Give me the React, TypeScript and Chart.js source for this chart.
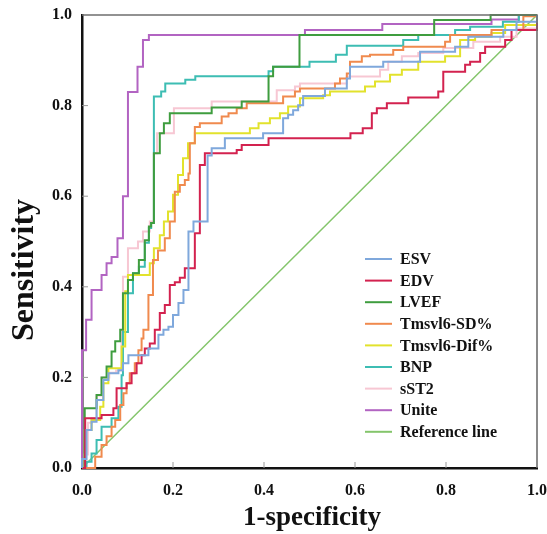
import React, { useEffect, useRef } from 'react';
import { Chart, registerables } from 'chart.js';

Chart.register(...registerables);

// ---- data ----
const seriesNames = ['ESV', 'EDV', 'LVEF', 'Tmsvl6-SD%', 'Tmsvl6-Dif%', 'BNP', 'sST2', 'Unite', 'Reference line'];

const esvFpr = [0, 0, 0.01, 0.021, 0.032, 0.047, 0.058, 0.08, 0.09, 0.102, 0.146, 0.168, 0.179, 0.19, 0.2, 0.212, 0.223, 0.234, 0.245, 0.276, 0.285, 0.314, 0.398, 0.442, 0.453, 0.464, 0.475, 0.486, 0.534, 0.582, 0.589, 0.662, 0.743, 0.82, 0.849, 0.926, 0.955, 1];
const esvTpr = [0, 0.02, 0.084, 0.102, 0.15, 0.194, 0.209, 0.216, 0.231, 0.249, 0.264, 0.294, 0.305, 0.312, 0.338, 0.364, 0.393, 0.522, 0.544, 0.69, 0.706, 0.728, 0.739, 0.772, 0.78, 0.79, 0.801, 0.821, 0.838, 0.86, 0.886, 0.897, 0.919, 0.93, 0.952, 0.967, 0.985, 1];

const edvFpr = [0, 0.007, 0.043, 0.069, 0.076, 0.098, 0.109, 0.12, 0.131, 0.138, 0.149, 0.16, 0.171, 0.182, 0.193, 0.204, 0.215, 0.226, 0.248, 0.259, 0.27, 0.34, 0.351, 0.41, 0.59, 0.617, 0.637, 0.648, 0.67, 0.717, 0.783, 0.794, 0.842, 0.853, 0.875, 0.886, 0.93, 0.944, 1];
const edvTpr = [0, 0.11, 0.117, 0.132, 0.176, 0.187, 0.209, 0.231, 0.249, 0.264, 0.275, 0.305, 0.342, 0.36, 0.404, 0.41, 0.42, 0.441, 0.518, 0.669, 0.695, 0.702, 0.713, 0.728, 0.739, 0.75, 0.783, 0.794, 0.805, 0.818, 0.831, 0.875, 0.89, 0.897, 0.916, 0.93, 0.945, 0.967, 1];

const lvefFpr = [0, 0.006, 0.032, 0.043, 0.054, 0.065, 0.073, 0.084, 0.09, 0.101, 0.112, 0.125, 0.138, 0.147, 0.152, 0.158, 0.171, 0.18, 0.193, 0.285, 0.351, 0.41, 0.42, 0.478, 0.774, 0.898, 1];
const lvefTpr = [0, 0.132, 0.161, 0.2, 0.224, 0.257, 0.28, 0.305, 0.386, 0.415, 0.43, 0.459, 0.503, 0.533, 0.541, 0.695, 0.739, 0.761, 0.783, 0.796, 0.809, 0.865, 0.886, 0.956, 0.989, 1, 1];

const sdFpr = [0, 0.029, 0.043, 0.054, 0.065, 0.073, 0.084, 0.091, 0.098, 0.105, 0.116, 0.124, 0.131, 0.135, 0.146, 0.156, 0.167, 0.182, 0.193, 0.204, 0.215, 0.226, 0.234, 0.237, 0.248, 0.259, 0.307, 0.322, 0.34, 0.362, 0.442, 0.468, 0.479, 0.556, 0.567, 0.582, 0.589, 0.615, 0.633, 0.684, 0.706, 0.798, 0.809, 0.9, 0.97, 1];
const sdTpr = [0, 0.025, 0.051, 0.07, 0.091, 0.106, 0.139, 0.165, 0.187, 0.209, 0.231, 0.26, 0.286, 0.305, 0.382, 0.459, 0.48, 0.507, 0.544, 0.61, 0.625, 0.636, 0.65, 0.717, 0.753, 0.761, 0.776, 0.783, 0.794, 0.805, 0.82, 0.831, 0.838, 0.849, 0.86, 0.871, 0.897, 0.909, 0.912, 0.923, 0.93, 0.941, 0.956, 0.967, 0.997, 1];

const difFpr = [0, 0.006, 0.021, 0.04, 0.047, 0.058, 0.087, 0.095, 0.101, 0.149, 0.158, 0.171, 0.18, 0.189, 0.2, 0.211, 0.222, 0.233, 0.248, 0.369, 0.388, 0.413, 0.435, 0.453, 0.479, 0.53, 0.545, 0.622, 0.644, 0.677, 0.703, 0.739, 0.798, 0.831, 0.864, 0.9, 0.93, 1, 1];
const difTpr = [0, 0.084, 0.106, 0.135, 0.187, 0.22, 0.268, 0.39, 0.426, 0.452, 0.485, 0.514, 0.544, 0.566, 0.603, 0.647, 0.684, 0.717, 0.739, 0.75, 0.761, 0.772, 0.783, 0.798, 0.816, 0.823, 0.831, 0.842, 0.853, 0.868, 0.879, 0.897, 0.909, 0.945, 0.952, 0.96, 0.978, 0.978, 1];

const bnpFpr = [0, 0.01, 0.021, 0.032, 0.043, 0.065, 0.08, 0.087, 0.09, 0.101, 0.112, 0.125, 0.138, 0.147, 0.152, 0.158, 0.174, 0.183, 0.227, 0.249, 0.41, 0.42, 0.5, 0.558, 0.582, 0.706, 0.739, 0.82, 0.853, 0.925, 0.96, 1];
const bnpTpr = [0, 0.014, 0.032, 0.062, 0.091, 0.11, 0.135, 0.205, 0.3, 0.386, 0.43, 0.444, 0.497, 0.53, 0.541, 0.82, 0.831, 0.849, 0.857, 0.865, 0.876, 0.886, 0.897, 0.912, 0.932, 0.945, 0.956, 0.967, 0.974, 0.985, 1, 1];

const sst2Fpr = [0, 0.006, 0.013, 0.021, 0.032, 0.043, 0.06, 0.075, 0.087, 0.09, 0.101, 0.123, 0.134, 0.149, 0.158, 0.165, 0.202, 0.285, 0.428, 0.468, 0.479, 0.582, 0.655, 0.673, 0.703, 0.739, 0.794, 0.86, 0.919, 0.955, 1];
const sst2Tpr = [0, 0.03, 0.1, 0.11, 0.16, 0.2, 0.21, 0.215, 0.3, 0.422, 0.485, 0.5, 0.522, 0.544, 0.695, 0.739, 0.794, 0.809, 0.834, 0.842, 0.849, 0.864, 0.879, 0.897, 0.909, 0.916, 0.927, 0.941, 0.952, 0.97, 1];

const uniteFpr = [0, 0, 0.009, 0.021, 0.043, 0.054, 0.065, 0.078, 0.09, 0.101, 0.122, 0.134, 0.147, 0.49, 0.66, 0.9, 0.96, 1];
const uniteTpr = [0, 0.26, 0.327, 0.393, 0.426, 0.452, 0.466, 0.507, 0.6, 0.83, 0.886, 0.945, 0.956, 0.967, 0.98, 0.99, 1, 1];

const refFpr = [0, 1];
const refTpr = [0, 1];

const axisTicks = [0, 0.2, 0.4, 0.6, 0.8, 1.0];

// ---- styles ----
const colors = ['#7fa8dc', '#d3224f', '#3f9d3f', '#f08a4e', '#e2e22c', '#3dbdb3', '#f7c7d3', '#b264c2', '#84c56b'];
const FONT = "'Liberation Serif', 'Times New Roman', serif";

const curves = [
  [esvFpr, esvTpr], [edvFpr, edvTpr], [lvefFpr, lvefTpr], [sdFpr, sdTpr], [difFpr, difTpr],
  [bnpFpr, bnpTpr], [sst2Fpr, sst2Tpr], [uniteFpr, uniteTpr], [refFpr, refTpr],
];

const decorPlugin = {
  id: 'decor',
  afterDraw(chart: any) {
    const { ctx, chartArea: a, scales } = chart;
    const xs = scales.x, ys = scales.y;
    ctx.save();
    // top & right frame
    ctx.strokeStyle = '#6f6f6f';
    ctx.lineWidth = 1.6;
    ctx.beginPath();
    ctx.moveTo(a.left, a.top);
    ctx.lineTo(a.right, a.top);
    ctx.lineTo(a.right, a.bottom);
    ctx.stroke();
    // inward ticks
    ctx.strokeStyle = '#9a9a9a';
    ctx.lineWidth = 1;
    axisTicks.slice(1, -1).forEach((v) => {
      const px = xs.getPixelForValue(v);
      ctx.beginPath(); ctx.moveTo(px, a.bottom); ctx.lineTo(px, a.bottom - 6); ctx.stroke();
      const py = ys.getPixelForValue(v);
      ctx.beginPath(); ctx.moveTo(a.left, py); ctx.lineTo(a.left + 6, py); ctx.stroke();
    });
    // legend
    const lx = 365, tx = 400, ly0 = 259, step = 21.6;
    ctx.font = `bold 16px ${FONT}`;
    ctx.textBaseline = 'middle';
    ctx.textAlign = 'left';
    chart.data.datasets.forEach((ds: any, i: number) => {
      const y = ly0 + i * step;
      ctx.strokeStyle = ds.borderColor;
      ctx.lineWidth = 2;
      ctx.beginPath(); ctx.moveTo(lx, y); ctx.lineTo(lx + 27, y); ctx.stroke();
      ctx.fillStyle = '#111';
      ctx.fillText(ds.label, tx, y + 1);
    });
    // axis titles
    ctx.fillStyle = '#111';
    ctx.font = `bold 27px ${FONT}`;
    ctx.textAlign = 'center';
    ctx.fillText('1-specificity', 312, 518);
    ctx.save();
    ctx.translate(25, 270);
    ctx.rotate(-Math.PI / 2);
    ctx.font = `bold 32px ${FONT}`;
    ctx.fillText('Sensitivity', 0, 0);
    ctx.restore();
    ctx.restore();
  },
};

const zeroPad = (s: any) => {
  s.paddingLeft = 0;
  s.paddingRight = 0;
  s.paddingTop = 0;
  s.paddingBottom = 0;
};

export default function App() {
  const ref = useRef<HTMLCanvasElement | null>(null);
  useEffect(() => {
    if (!ref.current) return;
    const datasets = curves.map(([fx, ty], i) => ({
      label: seriesNames[i],
      data: fx.map((x, j) => ({ x, y: ty[j] })),
      borderColor: colors[i],
      backgroundColor: colors[i],
      borderWidth: i === 8 ? 1.5 : 2,
      showLine: true,
      pointRadius: 0,
      stepped: i === 8 ? false : 'before',
      fill: false,
      clip: 4,
    }));
    const chart = new Chart(ref.current, {
      type: 'scatter',
      data: { datasets: datasets as any },
      options: {
        animation: false,
        responsive: true,
        maintainAspectRatio: false,
        layout: { padding: { left: 0, top: 15, right: 10, bottom: 0 } },
        plugins: { legend: { display: false }, tooltip: { enabled: false } },
        scales: {
          x: {
            type: 'linear', min: 0, max: 1,
            afterFit: (s: any) => { s.height = 66; zeroPad(s); },
            afterBuildTicks: (s: any) => { s.ticks = axisTicks.map((v) => ({ value: v })); },
            grid: { display: false, drawTicks: false },
            border: { display: true, color: '#111', width: 2.5 },
            ticks: { padding: 13, color: '#111', font: { family: FONT, size: 16, weight: 'bold' }, callback: (v: any) => Number(v).toFixed(1), maxRotation: 0 },
          },
          y: {
            type: 'linear', min: 0, max: 1,
            afterFit: (s: any) => { s.width = 82; zeroPad(s); },
            afterBuildTicks: (s: any) => { s.ticks = axisTicks.map((v) => ({ value: v })); },
            grid: { display: false, drawTicks: false },
            border: { display: true, color: '#111', width: 2.5 },
            ticks: { padding: 10, color: '#111', font: { family: FONT, size: 16, weight: 'bold' }, callback: (v: any) => Number(v).toFixed(1) },
          },
        },
      },
      plugins: [decorPlugin],
    });
    return () => chart.destroy();
  }, []);
  return (
    <div style={{ position: 'absolute', left: 0, top: 0, width: 547, height: 534, background: '#fff' }}>
      <canvas ref={ref} />
    </div>
  );
}
